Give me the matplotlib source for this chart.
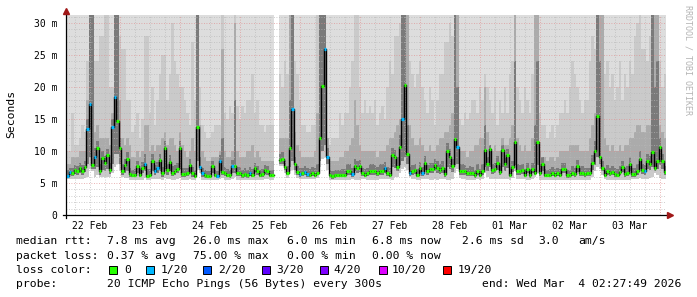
import numpy as np
import matplotlib
matplotlib.use("Agg")
import matplotlib.pyplot as plt
from matplotlib.patches import Rectangle
from matplotlib.lines import Line2D

nan = np.nan

# hourly median rtt in ms, from 22 Feb 02:27:49 to 04 Mar 02:27:49
median = [
    6.1, 6.7, 6.5, 7.0, 6.8, 7.3, 6.8, 7.5, 13.5, 17.3,
    7.8, 9.1, 10.4, 6.8, 8.9, 8.1, 9.3, 7.0, 13.8, 18.5,
    14.7, 10.5, 6.8, 7.8, 8.7, 6.4, 6.2, 6.3, 7.6, 6.2,
    7.3, 8.0, 6.1, 6.3, 8.5, 6.9, 7.3, 8.6, 6.5, 10.4,
    7.0, 8.3, 6.6, 6.9, 7.2, 10.4, 6.4, 6.4, 6.5, 7.8,
    6.5, 6.1, 13.8, 7.5, 6.5, 6.2, 6.1, 6.1, 7.6, 6.3,
    6.1, 8.5, 6.7, 6.6, 6.3, 6.2, 7.6, 7.6, 6.6, 6.6,
    6.2, 6.4, 6.2, 6.6, 6.3, 7.3, 6.8, 6.3, 6.4, 7.0,
    6.8, 6.2, 6.2, nan, nan, 8.6, 8.8, 7.5, 6.6, 10.5,
    16.6, 7.9, 6.7, 6.4, 6.5, 6.7, 6.4, 6.3, 6.6, 6.3,
    6.6, 12.1, 20.1, 25.9, 9.1, 6.2, 6.1, 6.2, 6.3, 6.3,
    6.3, 6.3, 6.9, 6.9, 6.4, 7.7, 7.3, 7.6, 6.5, 6.3,
    6.5, 6.9, 6.9, 6.8, 6.6, 6.9, 6.9, 7.3, 6.5, 6.3,
    9.4, 9.0, 7.5, 10.7, 15.0, 20.3, 9.6, 6.5, 6.8, 7.0,
    6.3, 7.3, 6.5, 8.1, 6.8, 7.2, 7.2, 7.8, 7.4, 7.0,
    7.4, 6.4, 10.0, 9.1, 7.6, 11.8, 10.7, 6.9, 6.9, 6.8,
    6.5, 6.6, 6.5, 6.2, 6.9, 6.3, 6.9, 10.2, 7.9, 10.3,
    7.0, 7.2, 8.1, 6.7, 10.1, 7.9, 9.4, 6.3, 7.5, 11.4,
    6.9, 6.8, 7.0, 6.3, 7.2, 6.2, 7.2, 6.6, 11.4, 6.6,
    8.0, 6.3, 6.3, 6.3, 6.6, 6.3, 6.5, 6.3, 7.2, 7.2,
    6.2, 6.2, 6.6, 6.4, 7.6, 6.5, 6.6, 6.4, 6.5, 6.5,
    8.1, 10.0, 15.4, 9.1, 7.4, 6.3, 6.8, 6.5, 6.7, 6.4,
    6.3, 6.7, 7.5, 6.4, 6.6, 7.9, 6.4, 6.4, 6.9, 8.8,
    7.0, 6.8, 8.5, 8.0, 9.8, 7.4, 8.5, 10.7, 8.5, 6.7,
]

# hours with 1 of 20 pings lost
loss_1of20 = [0, 1, 8, 9, 11, 18, 19, 31, 35, 36, 53, 54, 60, 61, 66, 73,
              90, 93, 95, 96, 103, 104, 114, 127, 134, 137, 142, 156, 231]

# smoke: lowest ping and percentiles of the 20 pings (ms)
ping_min = [
    5.6, 5.6, 5.6, 5.7, 5.7, 5.7, 5.7, 5.8, 6.0, 7.2,
    6.8, 6.0, 6.2, 5.9, 5.9, 5.9, 5.9, 5.9, 6.5, 7.5,
    8.0, 7.0, 6.0, 5.8, 5.8, 5.5, 5.5, 5.5, 5.5, 5.5,
    5.5, 5.8, 5.5, 5.5, 5.6, 5.6, 5.6, 5.6, 5.5, 5.8,
    5.6, 5.6, 5.5, 5.5, 5.6, 5.8, 5.5, 5.5, 5.5, 5.6,
    5.5, 5.4, 7.0, 6.5, 5.5, 5.4, 5.4, 5.4, 5.5, 5.4,
    5.4, 5.6, 5.8, 5.5, 5.5, 5.4, 5.6, 6.0, 5.5, 5.5,
    5.4, 5.4, 5.4, 5.5, 5.4, 5.5, 5.5, 5.4, 5.5, 5.6,
    5.6, 5.5, 5.5, nan, nan, 7.6, 7.6, 6.5, 5.8, 6.8,
    7.0, 6.2, 5.8, 5.6, 5.6, 5.6, 5.6, 5.6, 5.6, 5.6,
    5.8, 7.5, 8.8, 9.0, 7.0, 5.5, 5.4, 5.4, 5.4, 5.5,
    5.5, 5.5, 5.5, 5.5, 5.6, 5.5, 5.5, 5.5, 5.6, 5.6,
    5.5, 5.5, 5.5, 5.5, 5.5, 5.6, 5.6, 5.6, 5.6, 5.6,
    5.5, 6.0, 6.0, 6.5, 7.2, 7.5, 7.0, 6.0, 5.6, 5.6,
    5.5, 5.5, 5.6, 5.6, 5.6, 5.5, 5.5, 5.6, 5.5, 5.6,
    5.6, 5.6, 5.5, 5.5, 5.6, 6.5, 7.2, 5.8, 5.6, 5.6,
    5.5, 5.5, 5.5, 5.5, 5.6, 5.5, 5.6, 6.5, 6.0, 5.6,
    5.6, 5.6, 5.6, 5.6, 5.7, 5.6, 5.6, 5.5, 5.8, 6.8,
    5.6, 5.6, 5.6, 5.6, 5.5, 5.5, 5.6, 6.0, 6.5, 5.5,
    5.5, 5.5, 5.4, 5.4, 5.4, 5.5, 5.5, 5.5, 5.5, 5.5,
    5.4, 5.4, 5.4, 5.5, 5.5, 5.5, 5.4, 5.4, 5.5, 5.5,
    6.0, 6.8, 7.5, 7.2, 6.2, 5.6, 5.5, 5.5, 5.5, 5.5,
    5.5, 5.5, 5.5, 5.5, 5.5, 5.5, 5.6, 5.6, 5.6, 5.8,
    5.6, 5.6, 5.6, 5.8, 6.0, 6.5, 6.2, 5.8, 5.6, 5.6,
]

ping_q25 = [
    5.9, 6.2, 6.1, 6.4, 6.3, 6.6, 6.3, 6.7, 8.0, 9.0,
    7.2, 7.2, 7.5, 6.3, 7.0, 6.9, 7.2, 6.4, 8.0, 9.5,
    9.5, 8.0, 6.3, 6.6, 6.9, 6.0, 5.9, 5.9, 6.5, 5.9,
    6.5, 6.8, 5.8, 5.9, 6.8, 6.2, 6.5, 6.9, 6.0, 7.2,
    6.3, 6.8, 6.1, 6.3, 6.5, 7.2, 6.0, 6.0, 6.1, 6.6,
    6.0, 5.8, 8.5, 7.0, 6.0, 5.8, 5.8, 5.8, 6.5, 5.9,
    5.8, 6.8, 6.2, 6.1, 5.9, 5.8, 6.5, 6.6, 6.1, 6.1,
    5.8, 6.0, 5.8, 6.1, 5.9, 6.5, 6.3, 5.9, 6.0, 6.4,
    6.3, 5.9, 5.9, nan, nan, 8.0, 8.0, 7.0, 6.2, 7.5,
    8.5, 7.0, 6.2, 6.0, 6.1, 6.2, 6.0, 5.9, 6.1, 5.9,
    6.2, 8.5, 10.0, 11.0, 8.0, 5.8, 5.7, 5.8, 5.9, 5.9,
    5.9, 5.9, 6.3, 6.3, 6.0, 6.8, 6.6, 6.7, 6.1, 5.9,
    6.1, 6.3, 6.3, 6.3, 6.1, 6.3, 6.3, 6.6, 6.1, 5.9,
    7.5, 7.3, 6.8, 7.8, 8.5, 9.0, 8.0, 6.1, 6.3, 6.4,
    5.9, 6.6, 6.1, 7.0, 6.3, 6.5, 6.5, 6.8, 6.6, 6.4,
    6.6, 6.0, 7.5, 7.2, 6.7, 7.8, 8.0, 6.3, 6.3, 6.3,
    6.1, 6.1, 6.1, 5.8, 6.3, 5.9, 6.3, 7.5, 6.9, 7.5,
    6.4, 6.5, 7.0, 6.2, 7.5, 6.9, 7.3, 5.9, 6.7, 7.8,
    6.3, 6.3, 6.4, 5.9, 6.5, 5.8, 6.5, 6.3, 7.8, 6.1,
    6.9, 5.9, 5.9, 5.9, 6.1, 5.9, 6.1, 5.9, 6.5, 6.5,
    5.8, 5.8, 6.1, 6.0, 6.7, 6.1, 6.1, 6.0, 6.1, 6.1,
    7.0, 7.8, 9.0, 8.0, 6.8, 5.9, 6.3, 6.1, 6.2, 6.0,
    5.9, 6.2, 6.7, 6.0, 6.1, 6.9, 6.0, 6.0, 6.3, 7.2,
    6.4, 6.3, 7.2, 7.0, 7.5, 6.8, 7.2, 7.8, 7.2, 6.2,
]

ping_q60 = [
    7.0, 7.4, 7.3, 7.8, 7.6, 8.2, 7.8, 8.5, 15, 32,
    32, 10.5, 11.5, 8.0, 10, 9.2, 10.3, 8.2, 15, 32,
    32, 12, 8.0, 8.8, 9.8, 7.3, 7.0, 7.2, 8.5, 7.2,
    8.3, 9.5, 7.2, 7.2, 9.5, 7.8, 8.3, 9.6, 7.5, 11.5,
    8.0, 9.4, 7.6, 7.8, 8.2, 11.5, 7.3, 7.3, 7.4, 8.8,
    7.5, 7.0, 32, 9.0, 7.4, 7.0, 6.9, 6.9, 8.4, 7.1,
    6.9, 9.4, 12, 7.5, 7.2, 7.0, 8.6, 18, 7.5, 7.5,
    7.0, 7.3, 7.1, 7.5, 7.2, 8.2, 7.7, 7.1, 7.2, 7.8,
    7.6, 7.0, 7.0, nan, nan, 9.6, 9.8, 8.6, 7.6, 18,
    32, 9.0, 7.7, 7.3, 7.4, 7.6, 7.3, 7.2, 7.5, 7.3,
    8.0, 32, 32, 32, 10.5, 7.0, 6.9, 7.0, 7.1, 7.1,
    7.2, 7.2, 7.9, 7.9, 7.4, 8.8, 8.4, 8.6, 7.4, 7.2,
    7.4, 7.9, 7.9, 7.8, 7.5, 7.9, 7.9, 8.3, 7.5, 7.3,
    10.5, 10.2, 9.0, 12.5, 32, 32, 14, 7.5, 7.8, 8.0,
    7.2, 8.3, 7.5, 9.2, 7.8, 8.2, 8.2, 8.8, 8.4, 8.0,
    8.4, 7.4, 11.2, 10.3, 8.8, 32, 20, 7.9, 7.9, 7.8,
    7.4, 7.6, 7.5, 7.1, 7.9, 7.2, 7.9, 14, 9.0, 11.0,
    8.0, 8.2, 9.2, 7.6, 11.0, 8.9, 10.3, 7.2, 8.5, 24,
    7.9, 7.8, 8.0, 7.2, 8.2, 7.1, 8.2, 14, 24, 7.6,
    9.0, 7.2, 7.1, 7.2, 7.5, 7.2, 7.4, 7.2, 8.2, 8.2,
    7.1, 7.1, 7.6, 7.3, 8.6, 7.4, 7.6, 7.3, 7.4, 7.4,
    9.3, 11.5, 32, 24, 8.5, 7.2, 7.8, 7.4, 7.7, 7.3,
    7.2, 7.7, 8.5, 7.3, 7.6, 9.0, 7.3, 7.3, 7.9, 10.0,
    8.0, 7.8, 9.6, 9.2, 32, 20, 24, 12, 9.6, 7.6,
]

ping_q75 = [
    8, 8, 9, 9, 9, 10, 10, 10, 18, 32,
    32, 13, 14, 12, 12, 12, 12, 11, 16, 32,
    32, 18, 12, 11, 12, 11, 9, 9, 10, 9,
    10, 14, 14, 10, 11, 10, 11, 11, 12, 13,
    11, 12, 12, 11, 10, 13, 11, 10, 9, 10,
    12, 10, 32, 14, 10, 9, 8.5, 8.5, 9, 9,
    9, 10, 26, 10, 9, 9, 10, 30, 10, 9,
    9, 9, 10, 10, 11, 9, 10, 9, 8.5, 8.5,
    8.5, 8.5, 8.5, nan, nan, 12, 12, 12, 12, 32,
    32, 13, 11, 10, 9, 9, 9, 9, 9, 10,
    16, 32, 32, 32, 12, 8.5, 8.5, 8.5, 8.5, 9,
    9, 10, 10, 11, 12, 18, 14, 11, 10, 10,
    10, 10, 10, 10, 9, 10, 10, 10, 11, 12,
    12, 13, 14, 15, 32, 32, 32, 14, 12, 11,
    11, 12, 11, 10, 10, 11, 10, 10, 11, 12,
    12, 13, 13, 14, 16, 32, 32, 10, 10, 10,
    9, 10, 10, 11, 11, 12, 12, 20, 13, 11,
    10, 11, 10, 10, 12, 11, 11, 12, 14, 32,
    12, 11, 10, 11, 10, 10, 12, 32, 32, 10,
    9, 9, 8.5, 9, 9, 8.5, 9, 10, 10, 10,
    10, 11, 11, 11, 11, 10, 10, 10, 10, 12,
    14, 16, 32, 32, 32, 12, 11, 10, 11, 10,
    10, 11, 10, 11, 11, 12, 12, 13, 14, 14,
    13, 13, 14, 14, 32, 32, 32, 14, 13, 12,
]

ping_q90 = [
    10, 10, 16, 11, 11, 12, 14, 13, 24, 32,
    32, 24, 24, 28, 28, 32, 32, 20, 20, 32,
    32, 28, 26, 26, 18, 18, 13, 14, 16, 12,
    15, 28, 28, 16, 20, 14, 18, 22, 25, 25,
    18, 22, 30, 24, 22, 20, 20, 18, 16, 14,
    27, 18, 32, 20, 14, 13, 12, 12, 13, 14,
    14, 14, 32, 16, 15, 17, 16, 32, 17, 15,
    17, 16, 18, 18, 22, 16, 18, 14, 14, 13,
    14, 14, 14, nan, nan, 22, 20, 24, 22, 32,
    32, 24, 22, 18, 14, 14, 13, 13, 14, 14,
    32, 32, 32, 32, 12, 11, 12, 12, 12, 16,
    14, 16, 16, 20, 24, 32, 32, 20, 16, 18,
    16, 17, 16, 18, 14, 16, 17, 15, 20, 24,
    22, 28, 28, 30, 32, 32, 32, 24, 22, 20,
    22, 24, 20, 18, 16, 20, 18, 14, 18, 22,
    22, 27, 27, 30, 28, 32, 32, 15, 14, 16,
    15, 16, 18, 18, 16, 20, 18, 22, 20, 18,
    16, 20, 14, 18, 16, 20, 16, 22, 24, 32,
    20, 18, 16, 20, 18, 16, 22, 32, 32, 16,
    14, 14, 12, 13, 14, 12, 14, 16, 16, 18,
    16, 20, 24, 22, 20, 18, 16, 18, 18, 24,
    28, 26, 32, 32, 32, 22, 24, 20, 22, 18,
    20, 24, 18, 22, 20, 24, 22, 28, 30, 32,
    26, 26, 24, 28, 32, 32, 32, 24, 20, 22,
]

day_labels = ["22 Feb", "23 Feb", "24 Feb", "25 Feb", "26 Feb",
              "27 Feb", "28 Feb", "01 Mar", "02 Mar", "03 Mar"]
ytick_vals = [0, 5, 10, 15, 20, 25, 30]
ytick_labels = ["0", "5 m", "10 m", "15 m", "20 m", "25 m", "30 m"]
first_midnight = 24 - (2 + 27 / 60 + 49 / 3600)   # hours after start

rtt_label = "median rtt:"
rtt_fields = ["7.8 ms avg", "26.0 ms max", "6.0 ms min", "6.8 ms now", "2.6 ms sd", "3.0", "am/s"]
loss_label = "packet loss:"
loss_fields = ["0.37 % avg", "75.00 % max", "0.00 % min", "0.00 % now"]
loss_names = ["0", "1/20", "2/20", "3/20", "4/20", "10/20", "19/20"]
loss_colors = ["#26ff00", "#00b8ff", "#0059ff", "#5e00ff", "#7e00ff", "#dd00ff", "#ff0000"]
probe_text = "20 ICMP Echo Pings (56 Bytes) every 300s"
end_text = "end: Wed Mar  4 02:27:49 2026"

W, H = 697, 297
fig = plt.figure(figsize=(W / 100, H / 100), dpi=100)
ax = fig.add_axes([66 / W, (H - 215) / H, 600 / W, 200 / H])
mono = "DejaVu Sans Mono"

n = len(median)
# each hour is a flat step from i to i+1
xs = np.repeat(np.arange(n + 1), 2)[1:-1]


def steps(a):
    return np.repeat(np.asarray(a, dtype=float), 2)


top = 32
mn = steps(ping_min)
q25 = steps(ping_q25)
ax.fill_between(xs, mn, np.where(np.isnan(mn), nan, top), color="#dddddd", lw=0)
ax.fill_between(xs, mn, steps(ping_q90), color="#cacaca", lw=0)
ax.fill_between(xs, q25, steps(ping_q75), color="#ababab", lw=0)
ax.fill_between(xs, q25, steps(ping_q60), color="#7a7a7a", lw=0)

# grid on top of the smoke
dots = (0, (1, 2))
for h in np.arange(first_midnight - 24, n + 1, 6):
    if h <= 0:
        continue
    is_mid = abs((h - first_midnight) % 24) < 1e-6
    ax.axvline(h, color="#e09090" if is_mid else "#b8b8b8", lw=0.6, ls=dots,
               alpha=0.9, zorder=3)
for v in range(1, 32):
    ax.axhline(v, color="#e09090" if v % 5 == 0 else "#b8b8b8", lw=0.6, ls=dots,
               alpha=0.9, zorder=3)

# median line and loss colour marks
ax.plot(xs, steps(median), color="black", lw=1.0, zorder=4)
for i, v in enumerate(median):
    if np.isnan(v):
        continue
    c = loss_colors[1] if i in loss_1of20 else loss_colors[0]
    ax.hlines(v, i, i + 1, color=c, lw=2.3, zorder=5)

ax.set_xlim(0, n)
ax.set_ylim(0, 31.25)
for s in ax.spines.values():
    s.set_visible(False)

noons = [first_midnight - 12 + 24 * k for k in range(len(day_labels))]
ax.set_xticks(noons)
ax.set_xticklabels(day_labels, fontfamily=mono, fontsize=7)
ax.tick_params(axis="x", length=0, pad=4.5)
ax.set_yticks(ytick_vals)
ax.set_yticklabels(ytick_labels, fontfamily=mono, fontsize=7)
ax.tick_params(axis="y", length=0, pad=6)

# axis lines with arrow heads
fig.add_artist(Line2D([63 / W, 670 / W], [1 - 215 / H] * 2, color="black", lw=0.9))
fig.add_artist(Line2D([66 / W] * 2, [1 - 218 / H, 1 - 12 / H], color="black", lw=0.9))
fig.add_artist(Line2D([66 / W], [1 - 11 / H], marker="^", color="#a01818", ms=4.5, lw=0))
fig.add_artist(Line2D([670 / W], [1 - 215 / H], marker=">", color="#a01818", ms=4.5, lw=0))

fig.text(11 / W, 1 - 114 / H, "Seconds", rotation=90, fontfamily=mono, fontsize=8.2,
         ha="center", va="center")
fig.text(688 / W, 1 - 60 / H, "RRDTOOL / TOBI OETIKER", rotation=270, fontfamily=mono,
         fontsize=6, color="#b4b4b4", ha="center", va="center")

fs = 8.2
row_y = [241, 256, 270, 284]


def put(x, row, s, **kw):
    fig.text(x / W, 1 - row_y[row] / H, s, fontfamily=mono, fontsize=fs, va="center", **kw)


put(16, 0, rtt_label)
for x, s in zip([107, 193, 287, 372, 462, 538, 578], rtt_fields):
    put(x, 0, s)
put(16, 1, loss_label)
for x, s in zip([107, 193, 287, 372], loss_fields):
    put(x, 1, s)
put(16, 2, "loss color:")
box_x = [109, 146, 203, 262, 320, 379, 443]
lab_x = [124, 161, 218, 276, 333, 392, 458]
for bx, lx, name, c in zip(box_x, lab_x, loss_names, loss_colors):
    fig.patches.append(Rectangle((bx / W, 1 - 274 / H), 8 / W, 8 / H, transform=fig.transFigure,
                                 facecolor=c, edgecolor="black", lw=0.7))
    put(lx, 2, name)
put(16, 3, "probe:")
put(107, 3, probe_text)
put(681, 3, end_text, ha="right")

fig.savefig("out.png", dpi=100)
